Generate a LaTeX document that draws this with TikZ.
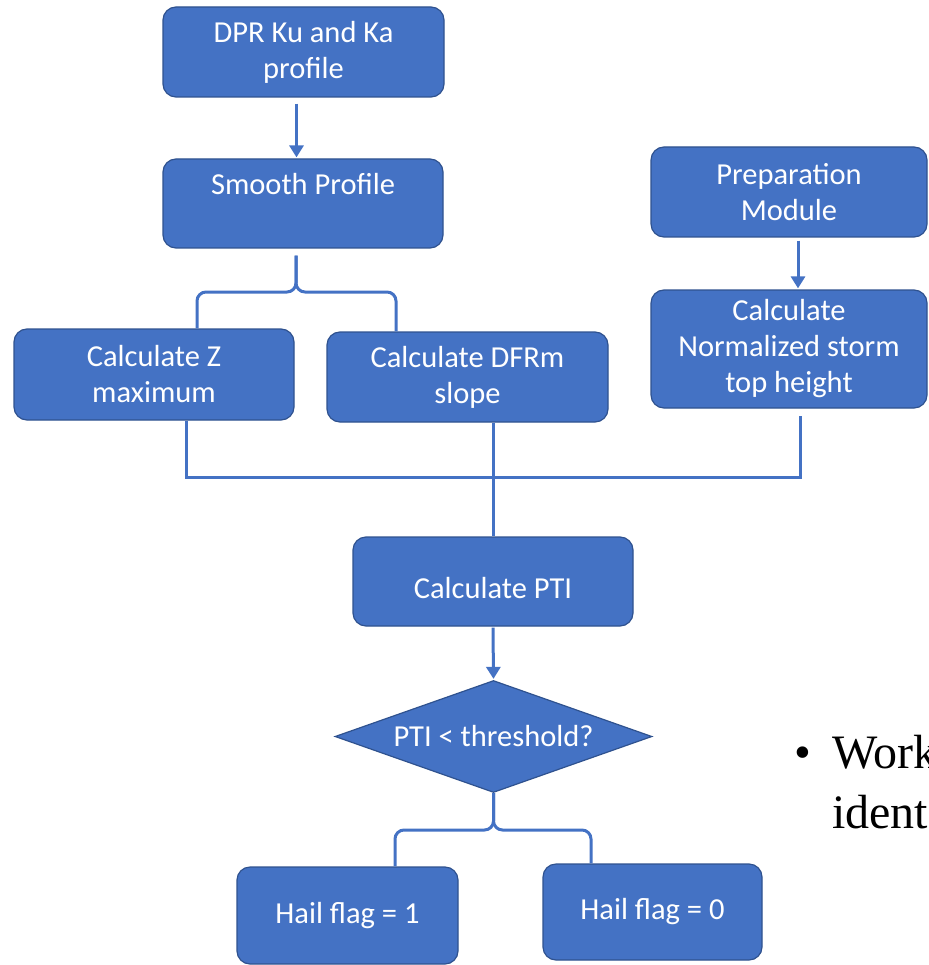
\documentclass[tikz,border=0pt]{standalone}
\usepackage{fontspec}
\setmainfont{Carlito}
\newfontfamily\slidefont{Liberation Serif}
\usetikzlibrary{arrows.meta,calc,shapes.geometric}
\definecolor{boxblue}{HTML}{4472C4}
\definecolor{edgeblue}{HTML}{2F528F}
\begin{document}
\begin{tikzpicture}[x=1pt,y=-1pt,
  stepbox/.style={draw=edgeblue, line width=1.2pt, fill=boxblue, rounded corners=13pt,
    text=white, align=center, font=\fontsize{30.5}{36}\selectfont, inner sep=0pt},
  decision/.style={stepbox, diamond, sharp corners, shape aspect=2.83},
  link/.style={draw=boxblue, line width=3pt},
  arrowlink/.style={link, -{Triangle[width=14pt,length=12pt]}, shorten >=1pt},
  brace/.style={link, rounded corners=9pt},
  slidetext/.style={font=\slidefont\fontsize{48}{60}\selectfont, inner sep=0pt, anchor=base west},
]
\useasboundingbox (0,0) rectangle (928,965);
\clip (0,0) rectangle (928,965);

% process steps
\node[stepbox, minimum width=281pt, minimum height=90pt] (dpr) at (303.5,52) {DPR Ku and Ka\\profile};
\node[stepbox, minimum width=280pt, minimum height=89pt, text height=21pt, text depth=38pt] (smooth) at (303,203.5) {Smooth Profile};
\node[stepbox, minimum width=280pt, minimum height=91pt] (zmax) at (154,374.5) {Calculate Z\\maximum};
\node[stepbox, minimum width=281pt, minimum height=90pt] (dfrm) at (467.5,377) {Calculate DFRm\\slope};
\node[stepbox, minimum width=276pt, minimum height=90pt] (prep) at (789,192) {Preparation\\Module};
\node[stepbox, minimum width=276pt, minimum height=118pt] (storm) at (789,349) {Calculate\\Normalized storm\\top height};
\node[stepbox, minimum width=280pt, minimum height=89pt, text height=35pt, text depth=2pt] (pti) at (493,581.5) {Calculate PTI};
\node[decision, minimum width=317pt, minimum height=112pt] (dia) at (493.5,736.5) {PTI < threshold?};
\node[stepbox, minimum width=221pt, minimum height=97pt] (hail1) at (347.5,915.5) {Hail flag = 1};
\node[stepbox, minimum width=219pt, minimum height=96pt] (hail0) at (652.5,912) {Hail flag = 0};

% straight arrows
\draw[arrowlink] ([xshift=-7pt,yshift=-6pt]dpr.south) -- ([xshift=-7pt]dpr.south |- smooth.north);
\draw[arrowlink] ([xshift=9pt,yshift=-3pt]prep.south) -- ([xshift=9pt]prep.south |- storm.north);
\draw[arrowlink] ([yshift=-1pt]pti.south) -- (dia.north);

% brace splitting the smoothed profile into two branches
\coordinate (stemtop) at ([xshift=-7pt,yshift=-7pt]smooth.south);
\coordinate (armZ) at ([xshift=43pt]zmax.north);
\coordinate (armD) at ([xshift=-71.5pt]dfrm.north);
\draw[brace] (stemtop) -- (stemtop |- 0,292) -- (armZ |- 0,292) -- (armZ);
\draw[brace] (stemtop) -- (stemtop |- 0,292) -- (armD |- 0,292) -- (armD);

% three inputs joined into the PTI step
\coordinate (outZ) at ([xshift=32pt]zmax.south);
\coordinate (outS) at ([xshift=11pt,yshift=-7pt]storm.south);
\draw[link] (outZ) -- (outZ |- 0,477) -- (outS |- 0,477) -- (outS);
\draw[link] (dfrm.south -| pti.north) -- (pti.north);

% brace splitting the decision into the two outcomes
\coordinate (arm1) at ([xshift=47.5pt]hail1.north);
\coordinate (arm0) at ([xshift=-61.5pt]hail0.north);
\draw[brace] (dia.south) -- (dia.south |- 0,830) -- (arm1 |- 0,830) -- (arm1);
\draw[brace] (dia.south) -- (dia.south |- 0,830) -- (arm0 |- 0,830) -- (arm0);

% bullet text at the right edge
\node[slidetext] (bullet) at (794,768) {•};
\node[slidetext] (work) at (832,768) {Work};
\node[slidetext] (ident) at (832,828) {ident};
\end{tikzpicture}
\end{document}
